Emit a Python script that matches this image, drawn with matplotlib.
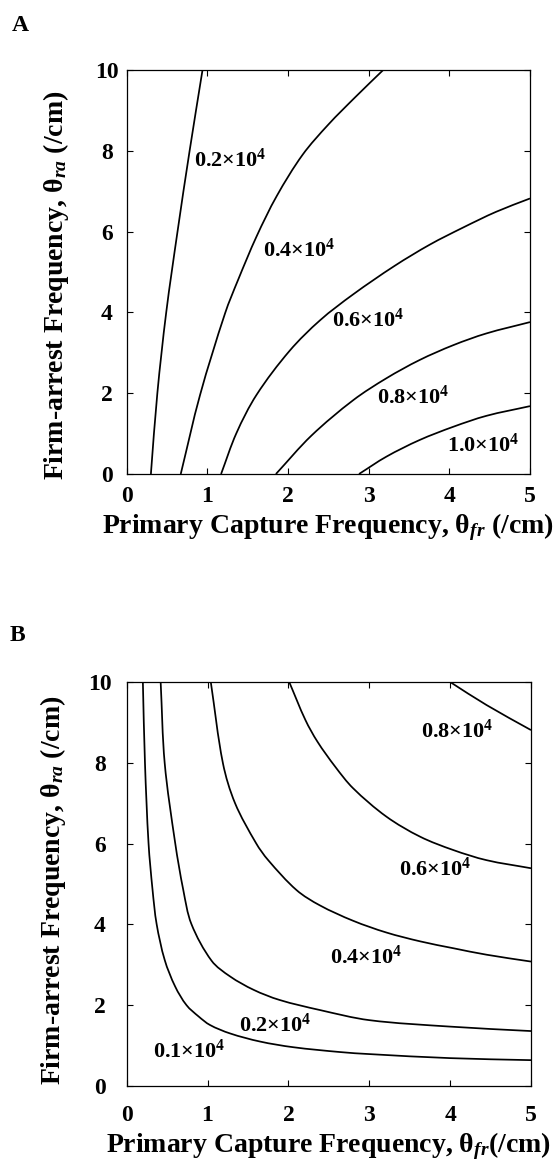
import matplotlib
matplotlib.use("Agg")
import numpy as np
import matplotlib.pyplot as plt
from matplotlib.path import Path
from matplotlib.patches import PathPatch

# ---------------- data ----------------
# Panel A contour lines
A_x_02 = [0.30, 0.38, 0.49, 0.63, 0.78, 0.94]
A_y_02 = [0.00, 2.00, 4.00, 6.00, 8.00, 10.0]
A_x_04 = [0.67, 0.91, 1.22, 1.38, 1.61, 1.86, 2.18, 2.50, 2.84, 3.18]
A_y_04 = [0.00, 1.96, 3.98, 4.80, 5.88, 6.88, 7.90, 8.65, 9.34, 10.0]
A_x_06 = [1.17, 1.36, 1.61, 2.02, 2.40, 2.81, 3.32, 3.76, 4.17, 4.58, 5.00]
A_y_06 = [0.00, 1.01, 1.96, 3.05, 3.81, 4.45, 5.15, 5.68, 6.10, 6.49, 6.82]
A_x_08 = [1.85, 2.29, 2.81, 3.22, 3.63, 4.05, 4.46, 5.00]
A_y_08 = [0.00, 0.95, 1.83, 2.37, 2.82, 3.19, 3.48, 3.76]
A_x_10 = [2.88, 3.22, 3.63, 4.05, 4.46, 5.00]
A_y_10 = [0.00, 0.43, 0.84, 1.17, 1.44, 1.68]
A_labels = ["0.2", "0.4", "0.6", "0.8", "1.0"]
A_label_x = [0.83, 1.69, 2.54, 3.10, 3.97]
A_label_y = [7.77, 5.54, 3.81, 1.91, 0.72]

# Panel B contour lines
B_x_01 = [0.20, 0.226, 0.27, 0.32, 0.37, 0.47, 0.60, 0.74, 0.89, 1.03, 1.28, 1.65, 2.06, 2.64, 3.00, 4.00, 5.00]
B_y_01 = [10.0, 7.99, 6.01, 4.85, 4.01, 3.12, 2.46, 2.00, 1.72, 1.51, 1.30, 1.10, 0.96, 0.84, 0.79, 0.69, 0.64]
B_x_02 = [0.42, 0.47, 0.60, 0.70, 0.80, 1.05, 1.28, 1.57, 1.89, 2.39, 3.00, 4.00, 5.00]
B_y_02 = [10.0, 7.99, 6.01, 4.85, 4.01, 3.10, 2.71, 2.38, 2.13, 1.88, 1.63, 1.47, 1.36]
B_x_04 = [1.04, 1.19, 1.34, 1.60, 1.75, 2.10, 2.39, 2.80, 3.21, 3.63, 4.04, 4.45, 5.00]
B_y_04 = [10.0, 7.99, 7.00, 6.01, 5.59, 4.85, 4.47, 4.09, 3.80, 3.58, 3.41, 3.25, 3.08]
B_x_06 = [2.01, 2.21, 2.36, 2.58, 2.80, 3.21, 3.63, 4.04, 4.45, 5.00]
B_y_06 = [10.0, 9.06, 8.52, 7.90, 7.37, 6.67, 6.17, 5.84, 5.59, 5.39]
B_x_08 = [4.00, 4.45, 5.00]
B_y_08 = [10.0, 9.43, 8.81]
B_labels = ["0.8", "0.6", "0.4", "0.2", "0.1"]
B_label_x = [3.64, 3.37, 2.51, 1.39, 0.33]
B_label_y = [8.77, 5.36, 3.20, 1.51, 0.85]

x_ticks = [0, 1, 2, 3, 4, 5]
y_ticks = [0, 2, 4, 6, 8, 10]

# ---------------- styling ----------------
plt.rcParams["font.family"] = ["Liberation Serif", "DejaVu Serif"]
plt.rcParams["font.weight"] = "bold"
plt.rcParams["mathtext.fontset"] = "custom"
plt.rcParams["mathtext.rm"] = "Liberation Serif:bold"
plt.rcParams["mathtext.it"] = "Liberation Serif:italic:bold"
plt.rcParams["mathtext.bf"] = "Liberation Serif:bold"

fig = plt.figure(figsize=(5.55, 11.6), dpi=100)
W, H = 555.0, 1160.0

def make_axes(left, right, top, bottom):
    return fig.add_axes([left / W, 1 - bottom / H, (right - left) / W, (bottom - top) / H])

axA = make_axes(126.7, 530.0, 70.0, 474.0)
axB = make_axes(126.7, 531.0, 682.0, 1086.0)

LW = 1.25
TICK_FS = 17
LAB_FS = 20
CL_FS = 16


def smooth_line(ax, xs, ys):
    """Draw a smooth curve through the given data points (Catmull-Rom style
    cubic Bezier path drawn in data coordinates)."""
    sx, sy = 80.8, 40.4  # make the parametrisation isotropic on screen
    P = np.column_stack([np.asarray(xs) * sx, np.asarray(ys) * sy])
    n = len(P)
    if n < 3:
        ax.plot(xs, ys, color="black", lw=LW)
        return
    d = np.linalg.norm(np.diff(P, axis=0), axis=1)
    t = np.concatenate([[0.0], np.cumsum(d)])
    tang = np.zeros_like(P)
    for i in range(n):
        if i == 0:
            tang[i] = (P[1] - P[0]) / (t[1] - t[0])
        elif i == n - 1:
            tang[i] = (P[-1] - P[-2]) / (t[-1] - t[-2])
        else:
            tang[i] = (P[i + 1] - P[i - 1]) / (t[i + 1] - t[i - 1])
    verts = [P[0]]
    codes = [Path.MOVETO]
    for i in range(n - 1):
        h = t[i + 1] - t[i]
        verts += [P[i] + tang[i] * h / 3, P[i + 1] - tang[i + 1] * h / 3, P[i + 1]]
        codes += [Path.CURVE4] * 3
    verts = np.array(verts) / np.array([sx, sy])
    ax.add_patch(PathPatch(Path(verts, codes), fill=False, edgecolor="black",
                           lw=LW, capstyle="butt", joinstyle="round"))


def style(ax, xpad, ylabcenter_px, xlabel, ylabel, xlab_pad):
    ax.set_xlim(0, 5)
    ax.set_ylim(0, 10)
    ax.set_xticks(x_ticks)
    ax.set_yticks(y_ticks)
    ax.set_xticklabels([str(v) for v in x_ticks])
    ax.set_yticklabels([str(v) for v in y_ticks])
    ax.tick_params(direction="in", length=4, width=0.8, top=True, right=True,
                   labelsize=TICK_FS)
    ax.tick_params(axis="x", pad=xpad)
    ax.tick_params(axis="y", pad=ylabcenter_px * 0.72)
    for lbl in ax.get_yticklabels():
        lbl.set_horizontalalignment("center")
        lbl.set_fontweight("bold")
    for lbl in ax.get_xticklabels():
        lbl.set_fontweight("bold")
    for s in ax.spines.values():
        s.set_linewidth(0.9)
    ax.set_xlabel(xlabel, fontsize=LAB_FS, fontweight="bold", labelpad=xlab_pad)
    ax.set_ylabel(ylabel, fontsize=LAB_FS, fontweight="bold", labelpad=2)


# Panel A
for xs, ys in [(A_x_02, A_y_02), (A_x_04, A_y_04), (A_x_06, A_y_06),
               (A_x_08, A_y_08), (A_x_10, A_y_10)]:
    smooth_line(axA, xs, ys)
for t, x, y in zip(A_labels, A_label_x, A_label_y):
    axA.text(x, y, t + "×10$^{4}$", fontsize=CL_FS, fontweight="bold",
             ha="left", va="center")
style(axA, 9, 20,
      r"Primary Capture Frequency, θ$_{fr}$ (/cm)",
      r"Firm-arrest Frequency, θ$_{ra}$ (/cm)", 3)

# Panel B
for xs, ys in [(B_x_01, B_y_01), (B_x_02, B_y_02), (B_x_04, B_y_04),
               (B_x_06, B_y_06), (B_x_08, B_y_08)]:
    smooth_line(axB, xs, ys)
for t, x, y in zip(B_labels, B_label_x, B_label_y):
    axB.text(x, y, t + "×10$^{4}$", fontsize=CL_FS, fontweight="bold",
             ha="left", va="center")
style(axB, 14, 27,
      r"Primary Capture Frequency, θ$_{fr}$(/cm)",
      r"Firm-arrest Frequency, θ$_{ra}$ (/cm)", 2.5)

# y-label horizontal positions (figure pixels -> axes fraction)
axA.yaxis.set_label_coords((71 - 126.7) / 403.3, 0.467)
axB.yaxis.set_label_coords((68 - 126.7) / 404.3, 0.485)

fig.text(12 / W, 1 - 15 / H, "A", fontsize=17, fontweight="bold", ha="left", va="top")
fig.text(10 / W, 1 - 625 / H, "B", fontsize=17, fontweight="bold", ha="left", va="top")

fig.savefig("out.png", dpi=100)
